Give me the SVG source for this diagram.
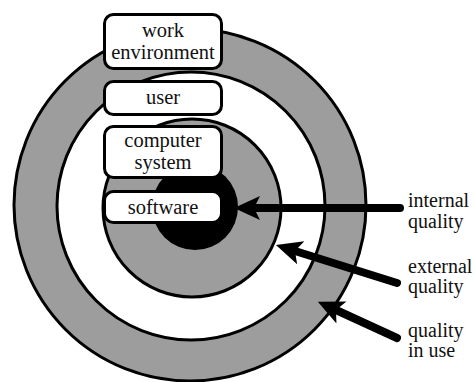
<svg xmlns="http://www.w3.org/2000/svg" width="475" height="382" viewBox="0 0 475 382">
<style>
.ring{stroke:#000;stroke-width:3}
.gray{fill:#9d9d9d}
.box{fill:#fff;stroke:#000;stroke-width:3}
text{font-family:'Liberation Serif','Times New Roman',serif;fill:#111}
.t{font-size:20.5px;text-anchor:middle}
.lbl{font-size:20px}
.arr{stroke:#000;stroke-width:8;stroke-linecap:round;fill:none;marker-end:url(#head)}
</style>
<defs>
<marker id="head" viewBox="0 -13 27 26" refX="6" refY="0" markerWidth="27" markerHeight="26" markerUnits="userSpaceOnUse" orient="auto">
<path d="M0,-12 L26,0 L0,12 L6,0 Z" fill="#000"/>
</marker>
</defs>
<g id="rings">
<circle class="ring gray" cx="190" cy="205" r="176"/>
<circle class="ring" fill="#fff" cx="191" cy="206" r="134"/>
<circle class="ring gray" cx="192" cy="208" r="89"/>
<circle fill="#000" cx="195" cy="207" r="43"/>
</g>
<g id="work-environment">
<rect class="box" x="104.5" y="14.5" width="117" height="54" rx="9"/>
<text class="t" x="163" y="37">work</text>
<text class="t" x="163" y="58.5">environment</text>
</g>
<g id="user">
<rect class="box" x="104.5" y="81.5" width="117" height="33" rx="9"/>
<text class="t" x="163" y="104">user</text>
</g>
<g id="computer-system">
<rect class="box" x="104.5" y="126.5" width="117" height="51" rx="9"/>
<text class="t" x="163" y="147">computer</text>
<text class="t" x="163" y="168.5">system</text>
</g>
<g id="software">
<rect class="box" x="104.5" y="191.5" width="117" height="31" rx="9"/>
<text class="t" x="163" y="214">software</text>
</g>
<g id="connectors">
<line class="arr" x1="400" y1="208" x2="254" y2="208"/>
<line class="arr" x1="397" y1="283" x2="295" y2="251"/>
<line class="arr" x1="397" y1="338" x2="336" y2="310"/>
</g>
<g id="labels">
<text class="lbl" x="408" y="207">internal</text>
<text class="lbl" x="408" y="228">quality</text>
<text class="lbl" x="408" y="273">external</text>
<text class="lbl" x="408" y="293">quality</text>
<text class="lbl" x="408" y="337">quality</text>
<text class="lbl" x="408" y="357">in use</text>
</g>
</svg>
